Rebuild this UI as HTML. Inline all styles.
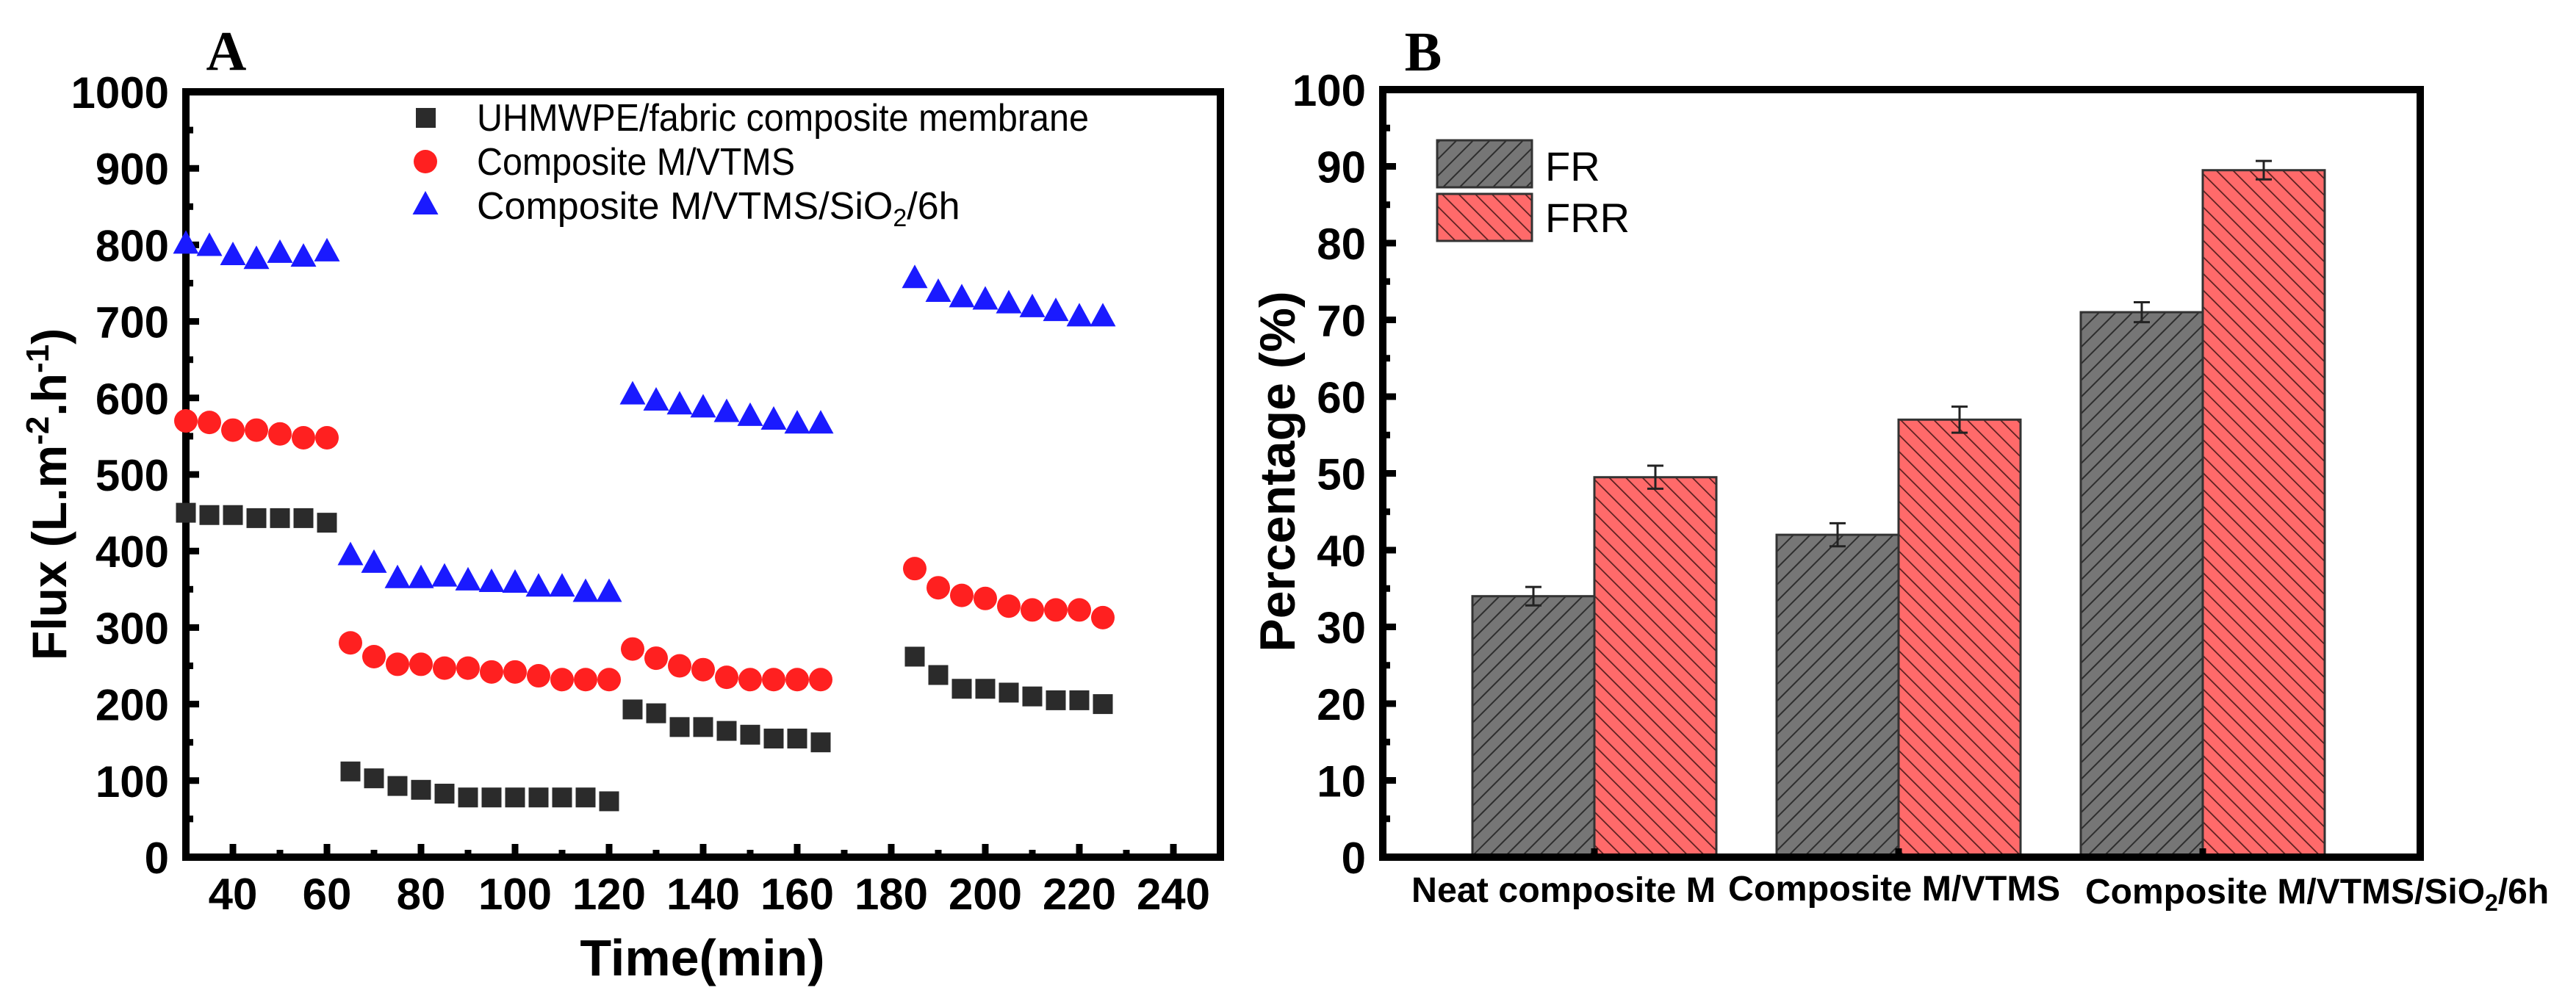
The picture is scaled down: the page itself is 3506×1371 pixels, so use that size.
<!DOCTYPE html>
<html><head><meta charset="utf-8"><style>
html,body{margin:0;padding:0;background:#fff;}
svg{display:block;font-family:"Liberation Sans",Arial,sans-serif;}
</style></head><body>
<svg id="fig" width="3506" height="1371" viewBox="0 0 3506 1371" xmlns="http://www.w3.org/2000/svg">
<defs>
<pattern id="hatchFR" patternUnits="userSpaceOnUse" width="16" height="16" patternTransform="rotate(45)">
<rect width="16" height="16" fill="#767676"/><line x1="0" y1="0" x2="0" y2="16" stroke="#2e2e2e" stroke-width="4"/></pattern>
<pattern id="hatchFRR" patternUnits="userSpaceOnUse" width="16" height="16" patternTransform="rotate(-45)">
<rect width="16" height="16" fill="#ff6a6a"/><line x1="0" y1="0" x2="0" y2="16" stroke="#5a2020" stroke-width="3.5"/></pattern>
</defs>
<g id="panelA"></g>
<g id="panelB"></g>
</svg>
<script>
// ---- Panel A data ----
const tA1 = [30,35,40,45,50,55,60];
const tA2 = [65,70,75,80,85,90,95,100,105,110,115,120];
const tA3 = [125,130,135,140,145,150,155,160,165];
const tA4 = [185,190,195,200,205,210,215,220,225];
const sqVals = [450,447,447,443,443,443,437, 112,103,93,88,83,78,78,78,78,78,78,73, 193,188,170,170,165,160,155,155,150, 262,238,220,220,215,210,205,205,200];
const ciVals = [570,568,558,558,553,548,548, 280,262,252,252,247,247,242,242,237,232,232,232, 272,260,250,245,235,232,232,232,232, 377,352,342,338,328,323,323,323,313];
const trVals = [800,797,785,780,788,783,790, 393,383,363,363,365,360,358,357,352,352,345,345, 603,595,590,586,580,575,570,565,565, 755,737,730,727,722,717,712,705,705];
const xTicksA = [40,60,80,100,120,140,160,180,200,220,240];
const yTicksA = [0,100,200,300,400,500,600,700,800,900,1000];
// ---- Panel B data ----
const categories = ["Neat composite M","Composite M/VTMS","Composite M/VTMS/SiO2/6h"];
const frVals = [34,42,71];
const frrVals = [49.5,57,89.5];
const frErr = [1.2,1.5,1.3];
const frrErr = [1.5,1.7,1.2];
const yTicksB = [0,10,20,30,40,50,60,70,80,90,100];

const NS="http://www.w3.org/2000/svg";
function mk(tag,attrs,parent,text){const e=document.createElementNS(NS,tag);for(const k in attrs)e.setAttribute(k,attrs[k]);if(text!==undefined)e.textContent=text;parent.appendChild(e);return e;}

// ---------- Panel A ----------
const A=document.getElementById('panelA');
const axL=253, axR=1661, axT=125, axB=1167;
const xA=v=>axL+(v-30)*(axR-axL)/220;
const yA=v=>axB-(v)*(axB-axT)/1000;
const times=tA1.concat(tA2,tA3,tA4);
let e;
e=mk('text',{x:308,y:95,'font-family':'"Liberation Serif",serif','font-weight':'bold','font-size':76,'text-anchor':'middle'},A,'A');


yTicksA.forEach((v,i)=>{
  const t=mk('line',{x1:axL,x2:axL+18,y1:yA(v),y2:yA(v),stroke:'#000','stroke-width':9},A);
  
  
  const l=mk('text',{x:230,y:yA(v)+22,'font-size':60,'font-weight':'bold','text-anchor':'end'},A,String(v));
  
  
  if(i<yTicksA.length-1){const m=mk('line',{x1:axL,x2:axL+10,y1:yA(v+50),y2:yA(v+50),stroke:'#000','stroke-width':9},A);
  
  }
});
xTicksA.forEach(v=>{
  const t=mk('line',{x1:xA(v),x2:xA(v),y1:axB,y2:axB-18,stroke:'#000','stroke-width':9},A);
  
  
  const m=mk('line',{x1:xA(v-10),x2:xA(v-10),y1:axB,y2:axB-10,stroke:'#000','stroke-width':9},A);
  
  
  const l=mk('text',{x:xA(v),y:1238,'font-size':60,'font-weight':'bold','text-anchor':'middle'},A,String(v));
  
  
});
e=mk('rect',{x:axL,y:axT,width:axR-axL,height:axB-axT,fill:'none',stroke:'#000','stroke-width':10},A);


times.forEach((t,i)=>{
  const s=mk('rect',{x:xA(t)-13.5,y:yA(sqVals[i])-13.5,width:27,height:27,fill:'#2b2b2b'},A);
  
  
});
times.forEach((t,i)=>{
  const c=mk('circle',{cx:xA(t),cy:yA(ciVals[i]),r:16,fill:'#ff2020'},A);
  
  
});
times.forEach((t,i)=>{
  const x=xA(t),y=yA(trVals[i]);
  const p=mk('polygon',{points:`${x-17.5},${y+12} ${x+17.5},${y+12} ${x},${y-20}`,fill:'#1a1aff'},A);
  
  
});
e=mk('rect',{x:566,y:147,width:27,height:27,fill:'#2b2b2b'},A);


e=mk('circle',{cx:579,cy:220,r:16,fill:'#ff2020'},A);


e=mk('polygon',{points:'561.5,292 596.5,292 579,260',fill:'#1a1aff'},A);


e=mk('text',{x:649,y:178,'font-size':52,textLength:833,lengthAdjust:'spacingAndGlyphs'},A,'UHMWPE/fabric composite membrane');


e=mk('text',{x:649,y:238,'font-size':52,textLength:433,lengthAdjust:'spacingAndGlyphs'},A,'Composite M/VTMS');


e=mk('text',{x:649,y:298,'font-size':52},A);
e.innerHTML='Composite M/VTMS/SiO<tspan font-size="34" dy="10">2</tspan><tspan dy="-10">/6h</tspan>';


e=mk('text',{x:956,y:1328,'font-size':70,'font-weight':'bold','text-anchor':'middle'},A,'Time(min)');


e=mk('text',{x:0,y:0,'font-size':66,'font-weight':'bold','text-anchor':'middle',transform:'translate(90,673) rotate(-90)'},A);
e.innerHTML='Flux (L.m<tspan font-size="44" dy="-24">-2</tspan><tspan dy="24">.h</tspan><tspan font-size="44" dy="-24">-1</tspan><tspan dy="24">)</tspan>';



// ---------- Panel B ----------
const B=document.getElementById('panelB');
const bL=1882, bR=3294, bT=122, bB=1167;
const groupStep=414, group0=2170, barW=166;
const xB=i=>group0+i*groupStep;
const yB=v=>bB-v*(bB-bT)/100;
e=mk('text',{x:1937,y:96,'font-family':'"Liberation Serif",serif','font-weight':'bold','font-size':76,'text-anchor':'middle'},B,'B');


yTicksB.forEach((v,i)=>{
  const t=mk('line',{x1:bL,x2:bL+18,y1:yB(v),y2:yB(v),stroke:'#000','stroke-width':9},B);
  
  
  const l=mk('text',{x:1859,y:yB(v)+22,'font-size':60,'font-weight':'bold','text-anchor':'end'},B,String(v));
  
  
  if(i<yTicksB.length-1){const m=mk('line',{x1:bL,x2:bL+10,y1:yB(v+5),y2:yB(v+5),stroke:'#000','stroke-width':9},B);
  
  }
});
categories.forEach((c,i)=>{
  const cx=xB(i);
  const r1=mk('rect',{x:cx-barW,y:yB(frVals[i]),width:barW,height:bB-yB(frVals[i]),fill:'url(#hatchFR)',stroke:'#333','stroke-width':3},B);
  
  
  const r2=mk('rect',{x:cx,y:yB(frrVals[i]),width:barW,height:bB-yB(frrVals[i]),fill:'url(#hatchFRR)',stroke:'#333','stroke-width':3},B);
  
  
  [[cx-barW/2,frVals[i],frErr[i]],[cx+barW/2,frrVals[i],frrErr[i]]].forEach(([x,v,er])=>{
    const g=mk('path',{d:`M${x},${yB(v+er)}V${yB(v-er)}M${x-11},${yB(v+er)}H${x+11}M${x-11},${yB(v-er)}H${x+11}`,stroke:'#222','stroke-width':3,fill:'none'},B);
    
    
  });
  const t=mk('line',{x1:cx,x2:cx,y1:bB,y2:bB-12,stroke:'#000','stroke-width':9},B);
  
  
});
e=mk('rect',{x:bL,y:bT,width:bR-bL,height:bB-bT,fill:'none',stroke:'#000','stroke-width':10},B);


e=mk('text',{x:1921,y:1228,'font-size':48,'font-weight':'bold',textLength:414,lengthAdjust:'spacingAndGlyphs'},B,categories[0]);


e=mk('text',{x:2352,y:1226,'font-size':48,'font-weight':'bold',textLength:452,lengthAdjust:'spacingAndGlyphs'},B,categories[1]);


e=mk('text',{x:2838,y:1230,'font-size':48,'font-weight':'bold'},B);
e.innerHTML='Composite M/VTMS/SiO<tspan font-size="32" dy="10">2</tspan><tspan dy="-10">/6h</tspan>';


e=mk('rect',{x:1956,y:191,width:129,height:64,fill:'url(#hatchFR)',stroke:'#333','stroke-width':3},B);


e=mk('rect',{x:1956,y:264,width:129,height:64,fill:'url(#hatchFRR)',stroke:'#333','stroke-width':3},B);


e=mk('text',{x:2103,y:246,'font-size':56},B,'FR');


e=mk('text',{x:2103,y:316,'font-size':56},B,'FRR');


e=mk('text',{x:0,y:0,'font-size':68,'font-weight':'bold','text-anchor':'middle',transform:'translate(1762,642) rotate(-90)'},B,'Percentage (%)');


</script>
</body></html>
